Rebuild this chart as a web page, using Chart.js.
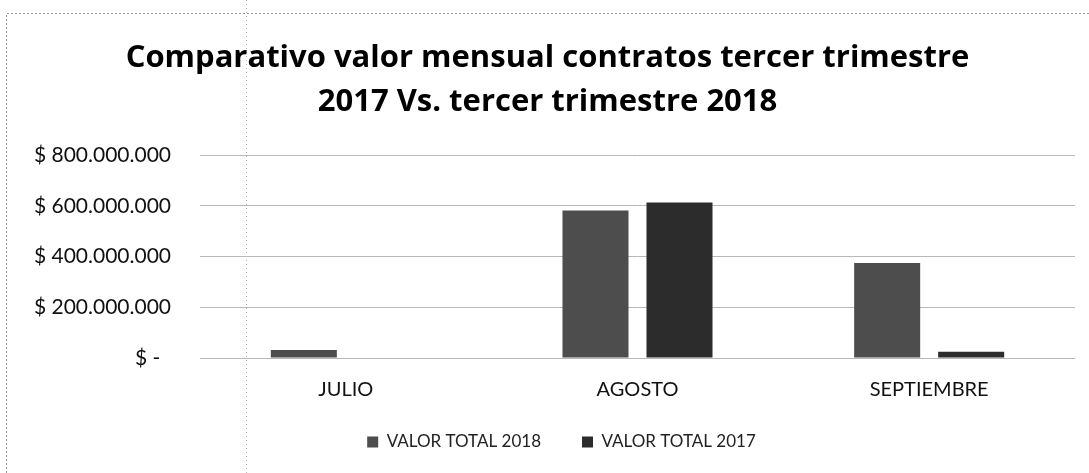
<!DOCTYPE html>
<html>
<head>
<meta charset="utf-8">
<script src="https://cdn.jsdelivr.net/npm/chart.js@4.4.1/dist/chart.umd.min.js"></script>
<style>
  html, body { margin: 0; padding: 0; background: #ffffff; }
  #wrap { width: 1089px; height: 473px; position: relative; }
</style>
</head>
<body>
<div id="wrap"><canvas id="c" width="1089" height="473"></canvas></div>
<script>
const categories = ['JULIO', 'AGOSTO', 'SEPTIEMBRE'];
const seriesNames = ['VALOR TOTAL 2018', 'VALOR TOTAL 2017'];
const valores2018 = [32000000, 581000000, 374000000];
const valores2017 = [0, 613000000, 25000000];
const tickValues = [0, 200000000, 400000000, 600000000, 800000000];
const titleLines = ['Comparativo valor mensual contratos tercer trimestre', '2017 Vs. tercer trimestre 2018'];

function fmtPeso(v) {
  if (v === 0) return '$ -  ';
  return '$ ' + String(Math.round(v)).replace(/\B(?=(\d{3})+(?!\d))/g, '.');
}

const framePlugin = {
  id: 'frame',
  afterLayout(chart) {
    const lg = chart.legend;
    if (lg) { lg.left += 14; lg.right += 14; lg.top -= 9.5; lg.bottom -= 9.5; }
  },
  beforeDraw(chart) {
    const ctx = chart.ctx;
    ctx.save();
    ctx.fillStyle = '#ffffff';
    ctx.fillRect(0, 0, chart.width, chart.height);
    ctx.strokeStyle = '#9a9a9a';
    ctx.lineWidth = 1;
    ctx.setLineDash([2, 2]);
    ctx.beginPath();
    ctx.moveTo(6.5, 473); ctx.lineTo(6.5, 13.5); ctx.lineTo(1089, 13.5);
    ctx.stroke();
    ctx.strokeStyle = '#b5b5b5';
    ctx.setLineDash([1, 3]);
    ctx.beginPath();
    ctx.moveTo(246.5, 0); ctx.lineTo(246.5, 473);
    ctx.stroke();
    ctx.restore();
  }
};

new Chart(document.getElementById('c'), {
  type: 'bar',
  data: {
    labels: categories,
    datasets: [
      { label: seriesNames[0], data: valores2018, backgroundColor: '#4d4d4d', borderWidth: 0 },
      { label: seriesNames[1], data: valores2017, backgroundColor: '#2c2c2c', borderWidth: 0 }
    ]
  },
  options: {
    responsive: false,
    animation: false,
    devicePixelRatio: 1,
    categoryPercentage: 0.576,
    barPercentage: 0.786,
    layout: { padding: { left: 20, right: 14, top: 0, bottom: 3 } },
    plugins: {
      title: {
        display: true,
        text: titleLines,
        color: '#000000',
        font: { family: 'Open Sans', size: 31, weight: 'bold', lineHeight: 1.42 },
        padding: { top: 36, bottom: 31 }
      },
      legend: {
        position: 'bottom',
        labels: {
          color: '#222222',
          font: { family: 'Lato', size: 17 },
          boxWidth: 11,
          boxHeight: 11,
          padding: 41
        }
      },
      tooltip: { enabled: false }
    },
    scales: {
      x: {
        afterFit(scale) { scale.height = 44; },
        grid: { display: false, drawTicks: false },
        border: { display: false },
        ticks: { color: '#111111', font: { family: 'Lato', size: 20 }, padding: 20 }
      },
      y: {
        min: 0,
        max: 800000000,
        afterBuildTicks(scale) { scale.ticks = tickValues.map(v => ({ value: v })); },
        afterFit(scale) { scale.width = 180; },
        grid: { color: '#b8b8b8', lineWidth: 1, drawTicks: false },
        border: { display: false },
        ticks: {
          color: '#111111',
          font: { family: 'Lato', size: 21 },
          padding: 29,
          callback: v => fmtPeso(v)
        }
      }
    }
  },
  plugins: [framePlugin]
});
</script>
</body>
</html>
